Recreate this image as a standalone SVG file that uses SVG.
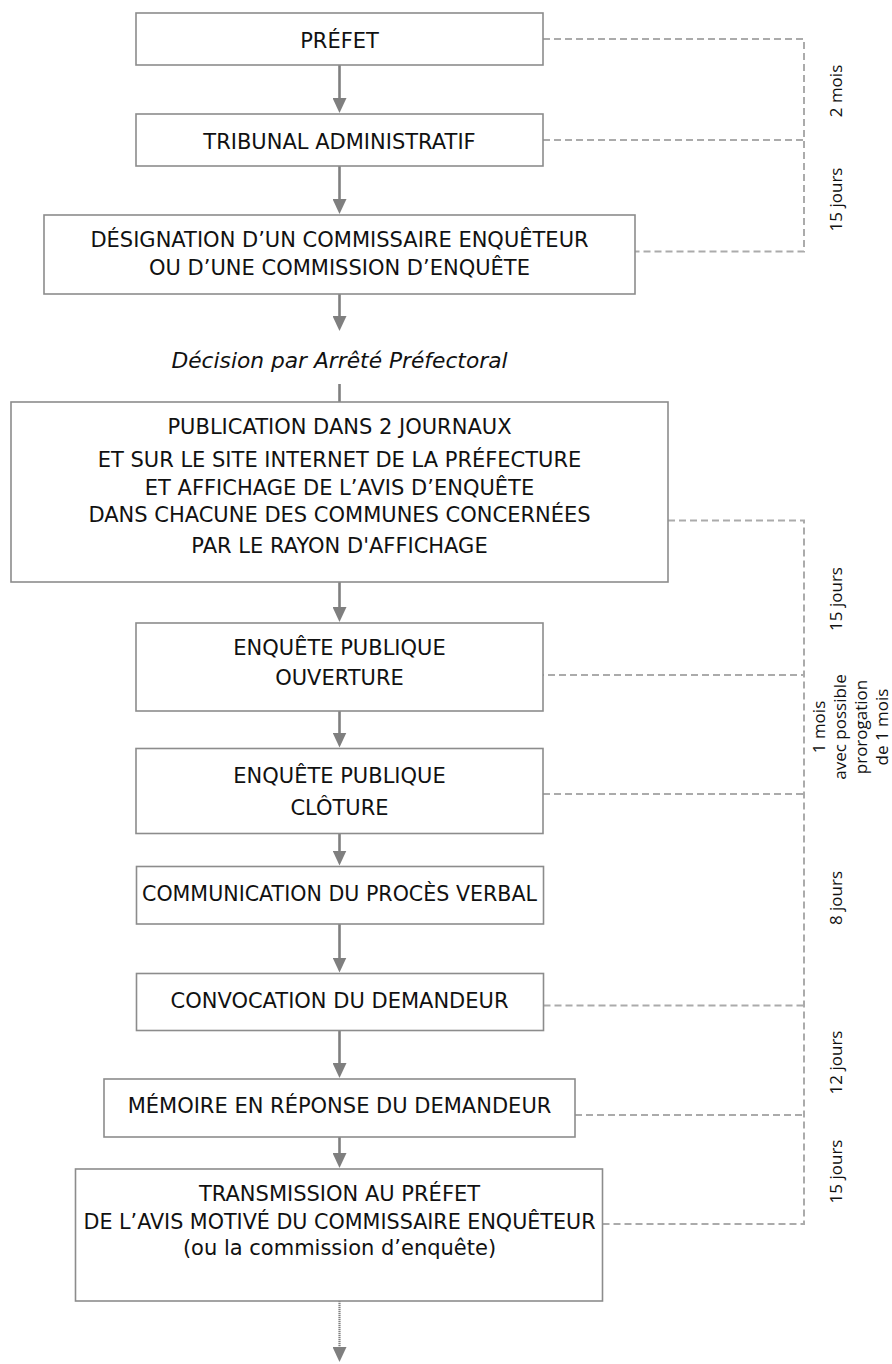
<svg xmlns="http://www.w3.org/2000/svg" width="892" height="1364" viewBox="0 0 892 1364">
<style>
.box{fill:#fff;stroke:#8c8c8c;stroke-width:1.6}
.t{font-family:"DejaVu Sans","Liberation Sans",sans-serif;font-size:21px;fill:#111;text-anchor:middle}
.it{font-style:italic}
.arr{stroke:#7f7f7f;stroke-width:2.6;fill:none}
.dot{stroke:#7f7f7f;stroke-width:2.2;fill:none;stroke-dasharray:1.2 0.8}
.dash{stroke:#ababab;stroke-width:2;fill:none;stroke-dasharray:7 4}
.lbl{font-family:"Open Sans","DejaVu Sans",sans-serif;font-size:17px;fill:#111;text-anchor:middle}
</style>
<defs>
<marker id="ah" markerUnits="userSpaceOnUse" viewBox="0 0 15 14" markerWidth="15" markerHeight="14" refX="9" refY="7" orient="auto">
<path d="M0,0 L15,7 L0,14 Z" fill="#7f7f7f"/>
</marker>
<clipPath id="clipDec"><rect x="100" y="340" width="500" height="32"/></clipPath>
</defs>

<g id="connectors">
<line class="arr" x1="339.5" y1="65" x2="339.5" y2="107" marker-end="url(#ah)"/>
<line class="arr" x1="339.5" y1="166" x2="339.5" y2="208" marker-end="url(#ah)"/>
<line class="arr" x1="339.5" y1="294" x2="339.5" y2="325" marker-end="url(#ah)"/>
<line class="arr" x1="339.5" y1="384" x2="339.5" y2="402"/>
<line class="arr" x1="339.5" y1="582" x2="339.5" y2="616" marker-end="url(#ah)"/>
<line class="arr" x1="339.5" y1="711" x2="339.5" y2="741.5" marker-end="url(#ah)"/>
<line class="arr" x1="339.5" y1="833.5" x2="339.5" y2="859.5" marker-end="url(#ah)"/>
<line class="arr" x1="339.5" y1="924" x2="339.5" y2="966.5" marker-end="url(#ah)"/>
<line class="arr" x1="339.5" y1="1030.5" x2="339.5" y2="1072" marker-end="url(#ah)"/>
<line class="arr" x1="339.5" y1="1137" x2="339.5" y2="1162" marker-end="url(#ah)"/>
<line class="dot" x1="339.5" y1="1301" x2="339.5" y2="1356" marker-end="url(#ah)"/>

<path class="dash" d="M543,39 H804 V251.5 H635"/>
<path class="dash" d="M543,140 H804"/>
<path class="dash" d="M668,520.5 H804 V1224 H602.5"/>
<path class="dash" d="M537,675 H804"/>
<path class="dash" d="M543,794 H804"/>
<path class="dash" d="M543.5,1005.5 H804"/>
<path class="dash" d="M575,1115 H804"/>
</g>

<g id="n-prefet">
<rect class="box" x="136" y="13" width="407" height="52"/>
<text class="t" x="339.5" y="47.5">PRÉFET</text>
</g>
<g id="n-tribunal">
<rect class="box" x="136" y="114" width="407" height="52"/>
<text class="t" x="339.5" y="149">TRIBUNAL ADMINISTRATIF</text>
</g>
<g id="n-designation">
<rect class="box" x="44" y="215" width="591" height="79"/>
<text class="t" x="339.5" y="247">DÉSIGNATION D’UN COMMISSAIRE ENQUÊTEUR</text>
<text class="t" x="339.5" y="275">OU D’UNE COMMISSION D’ENQUÊTE</text>
</g>
<g id="n-decision">
<text class="t it" x="339.5" y="368" clip-path="url(#clipDec)" textLength="336" lengthAdjust="spacingAndGlyphs">Décision par Arrêté Préfectoral</text>
</g>
<g id="n-publication">
<rect class="box" x="11" y="402" width="657" height="180"/>
<text class="t" x="339.5" y="434">PUBLICATION DANS 2 JOURNAUX</text>
<text class="t" x="339.5" y="466.5">ET SUR LE SITE INTERNET DE LA PRÉFECTURE</text>
<text class="t" x="339.5" y="495">ET AFFICHAGE DE L’AVIS D’ENQUÊTE</text>
<text class="t" x="339.5" y="521.5">DANS CHACUNE DES COMMUNES CONCERNÉES</text>
<text class="t" x="339.5" y="552.5">PAR LE RAYON D'AFFICHAGE</text>
</g>
<g id="n-ouverture">
<rect class="box" x="136" y="623" width="407" height="88"/>
<text class="t" x="339.5" y="655">ENQUÊTE PUBLIQUE</text>
<text class="t" x="339.5" y="685">OUVERTURE</text>
</g>
<g id="n-cloture">
<rect class="box" x="136" y="748.5" width="407" height="85"/>
<text class="t" x="339.5" y="783">ENQUÊTE PUBLIQUE</text>
<text class="t" x="339.5" y="815">CLÔTURE</text>
</g>
<g id="n-communication">
<rect class="box" x="136.5" y="866.5" width="407" height="57.5"/>
<text class="t" x="339.5" y="900.5" textLength="395" lengthAdjust="spacingAndGlyphs">COMMUNICATION DU PROCÈS VERBAL</text>
</g>
<g id="n-convocation">
<rect class="box" x="136.5" y="973.5" width="407" height="57"/>
<text class="t" x="339.5" y="1008">CONVOCATION DU DEMANDEUR</text>
</g>
<g id="n-memoire">
<rect class="box" x="104" y="1079" width="471" height="58"/>
<text class="t" x="339.5" y="1113">MÉMOIRE EN RÉPONSE DU DEMANDEUR</text>
</g>
<g id="n-transmission">
<rect class="box" x="75.5" y="1169" width="527" height="132"/>
<text class="t" x="339.5" y="1200.5">TRANSMISSION AU PRÉFET</text>
<text class="t" x="339.5" y="1229" textLength="512" lengthAdjust="spacingAndGlyphs">DE L’AVIS MOTIVÉ DU COMMISSAIRE ENQUÊTEUR</text>
<text class="t" x="339.5" y="1255">(ou la commission d’enquête)</text>
</g>

<g id="labels">
<text class="lbl" transform="translate(841.5,91) rotate(-90)">2 mois</text>
<text class="lbl" transform="translate(841.5,199.5) rotate(-90)">15 jours</text>
<text class="lbl" transform="translate(841.5,599) rotate(-90)">15 jours</text>
<text class="lbl" transform="translate(825,727) rotate(-90)"><tspan x="0" dy="0">1 mois</tspan><tspan x="0" dy="21">avec possible</tspan><tspan x="0" dy="21">prorogation</tspan><tspan x="0" dy="21">de 1 mois</tspan></text>
<text class="lbl" transform="translate(841.5,898) rotate(-90)">8 jours</text>
<text class="lbl" transform="translate(841.5,1062.5) rotate(-90)">12 jours</text>
<text class="lbl" transform="translate(841.5,1171.5) rotate(-90)">15 jours</text>
</g>
</svg>
